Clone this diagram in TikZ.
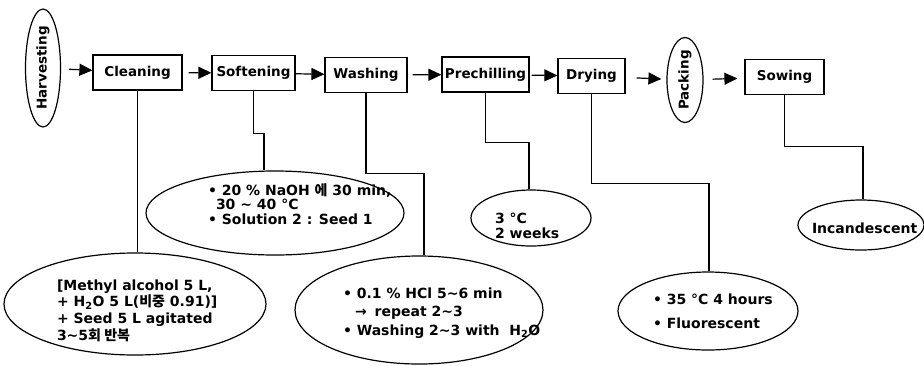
\documentclass[tikz,border=0pt]{standalone}
\usepackage{fontspec}
\setmainfont{DejaVu Sans}
\newfontfamily\kr{Noto Sans CJK KR}
\usetikzlibrary{shapes.geometric,arrows.meta}
\newcommand\notetext[3]{\makebox[0pt][l]{\hspace*{#1pt}\raisebox{#2pt}[0pt][0pt]{\begin{tabular}{@{}l@{}}#3\end{tabular}}}}
\tikzset{
  stepbox/.style={draw, rectangle, minimum height=35, inner sep=0, font=\fontsize{13.5}{16}\selectfont\bfseries},
  oval/.style={draw, ellipse, inner sep=0, font=\fontsize{13.5}{16}\selectfont\bfseries},
  note/.style={draw, ellipse, inner sep=0, font=\fontsize{14}{16.7}\selectfont\bfseries},
  arr/.style={-{Triangle[length=13pt,width=12pt]}},
}
\begin{document}
\begin{tikzpicture}[x=1pt,y=-1pt,line width=1.2pt]
\useasboundingbox (0,0) rectangle (924,365);
\node[oval, rotate=90, minimum width=118, minimum height=35] (harv) at (43,68) {Harvesting};
\node[stepbox, minimum width=89] (clean) at (137.5,72.5) {Cleaning};
\node[stepbox, minimum width=83] (soft) at (253.5,73) {Softening};
\node[stepbox, minimum width=82] (wash) at (366,75) {Washing};
\node[stepbox, minimum width=87] (chill) at (485.5,74.5) {Prechilling};
\node[stepbox, minimum width=67] (dry) at (591.5,76) {Drying};
\node[oval, rotate=90, minimum width=85, minimum height=36] (pack) at (685,80) {Packing};
\node[stepbox, minimum width=79] (sow) at (784.5,77) {Sowing};

\node[note, minimum width=262, minimum height=102] (cleannote) at (135,304)
  {\notetext{-78}{-11.5}{[Methyl alcohol 5 L,\\
   + H\textsubscript{2}O 5 L({\kr 비중} 0.91)]\\
   + Seed 5 L agitated\\
   3\textasciitilde 5{\kr 회 반복}}};
\node[note, minimum width=258, minimum height=84, font=\fontsize{14}{13}\selectfont\bfseries] (softnote) at (275,213)
  {\notetext{-67}{3.5}{• 20 \% NaOH {\kr 에} 30 min,\\
   \hspace*{8pt}30 \textasciitilde{} 40 °C\\
   •\ Solution 2 : Seed 1}};
\node[note, minimum width=248, minimum height=108, font=\fontsize{14}{18.5}\selectfont\bfseries] (washnote) at (419,310)
  {\notetext{-76}{-6.5}{• 0.1 \% HCl 5\textasciitilde 6 min\\
   \hspace*{12pt}→\hspace*{8pt}repeat 2\textasciitilde 3\\
   • Washing 2\textasciitilde 3 with\ \ H\textsubscript{2}O}};
\node[note, minimum width=120, minimum height=56, font=\fontsize{14}{15}\selectfont\bfseries] (chillnote) at (531,218)
  {\notetext{-36}{-13.5}{3 °C\\
   2 weeks}};
\node[note, minimum width=180, minimum height=78, font=\fontsize{14}{24}\selectfont\bfseries] (drynote) at (708,311)
  {\notetext{-55}{-4.5}{• 35 °C 4 hours\\
   • Fluorescent}};
\node[note, minimum width=126, minimum height=50] (sownote) at (861,225)
  {\notetext{-49}{-8.5}{Incandescent}};

\draw[arr, shorten <=8] (harv) -- (clean);
\draw[arr, shorten <=6] (clean) -- (soft);
\draw[arr] (soft) -- (wash);
\draw[arr, shorten <=5] (wash) -- (chill);
\draw[arr, shorten <=2] (chill) -- (dry);
\draw[arr, shorten <=11, shorten >=5] (dry) -- (pack);
\draw[arr, shorten <=9, shorten >=7] (pack) -- (sow);

\draw (clean.south) -- (clean.south |- cleannote.north);
\draw (soft.south) -- ++(0,42) -| ([xshift=-11]softnote.north);
\draw (wash.south) -- ++(0,80) -| ([xshift=5]washnote.north);
\draw (chill.south) -- ++(0,50) -| ([xshift=-2]chillnote.north);
\draw (dry.south) -- ++(0,89.5) -| ([xshift=1]drynote.north);
\draw (sow.south) -- ++(0,51.5) -| ([xshift=2]sownote.north);
\end{tikzpicture}
\end{document}
